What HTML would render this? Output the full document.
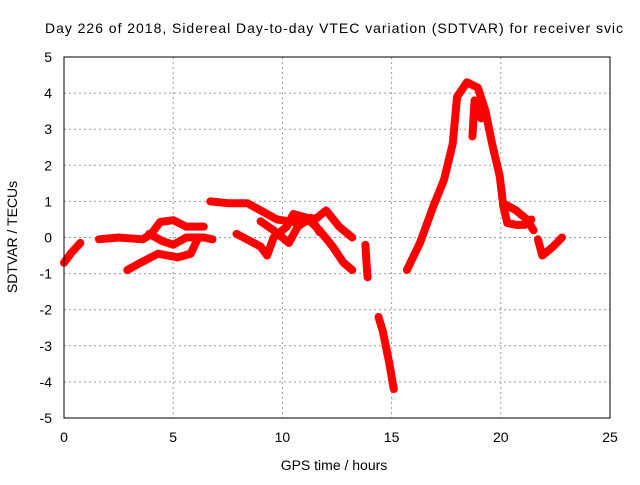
<!DOCTYPE html>
<html><head><meta charset="utf-8"><style>
body{margin:0;background:#fff}
svg text{font-family:"Liberation Sans",sans-serif;font-size:14px;fill:#000}
</style></head><body>
<svg id="c" width="640" height="480">
<text x="45" y="33" textLength="578" lengthAdjust="spacing">Day 226 of 2018, Sidereal Day-to-day VTEC variation (SDTVAR) for receiver svic</text>
<text x="334" y="470" text-anchor="middle">GPS time / hours</text>
<text transform="translate(17,237) rotate(-90)" text-anchor="middle">SDTVAR / TECUs</text>
<g id="grid"></g><g id="marks"></g>
<rect x="64" y="57" width="546" height="361" fill="none" stroke="#000"/>
</svg>
<script>
const xTicks=[0,5,10,15,20,25];
const yTicks=[-5,-4,-3,-2,-1,0,1,2,3,4,5];
const tA_h=[0,0.3,0.75]; const tA_v=[-0.7,-0.45,-0.15];
const tB_h=[1.6,2.5,3.6,4.0,4.4,5.0,5.6,6.4]; const tB_v=[-0.05,0.0,-0.05,0.1,0.43,0.48,0.3,0.3];
const tC_h=[3.9,4.5,5.0,5.6,6.4,6.8]; const tC_v=[0.1,-0.1,-0.2,0.0,0.0,-0.05];
const tD_h=[2.9,3.5,4.3,5.2,5.8,6.1]; const tD_v=[-0.9,-0.7,-0.45,-0.55,-0.45,-0.07];
const tE_h=[6.7,7.5,8.4,9.0,9.75,10.8,11.6,12.0,12.6,13.2]; const tE_v=[1.0,0.95,0.95,0.75,0.5,0.4,0.55,0.75,0.3,0.0];
const tF_h=[7.9,9.0,9.3,9.6,10.2,10.5,11.1,11.7,12.3,12.8,13.2]; const tF_v=[0.1,-0.25,-0.5,0.0,0.3,0.65,0.55,0.2,-0.25,-0.7,-0.9];
const tG_h=[9.0,9.6,10.3,10.7,11.3,11.7]; const tG_v=[0.45,0.2,-0.15,0.3,0.55,0.15];
const tH_h=[13.8,13.85,13.9]; const tH_v=[-0.2,-0.7,-1.1];
const tI_h=[14.4,14.6,14.9,15.1]; const tI_v=[-2.2,-2.6,-3.5,-4.2];
const tJ_h=[15.7,16.3,16.9,17.4,17.8,18.0,18.45,18.95,19.3,19.6,19.95,20.1,20.7,21.2,21.5]; const tJ_v=[-0.9,-0.15,0.85,1.6,2.6,3.9,4.3,4.15,3.5,2.6,1.7,0.95,0.75,0.5,0.2];
const tK_h=[18.7,18.8,19.1]; const tK_v=[2.8,3.8,3.3];
const tL_h=[20.1,20.3,20.7,21.1,21.4]; const tL_v=[0.9,0.4,0.35,0.35,0.5];
const tM_h=[21.7,21.9,22.4,22.8]; const tM_v=[-0.05,-0.5,-0.25,0.0];
const series=[[tA_h,tA_v],[tB_h,tB_v],[tC_h,tC_v],[tD_h,tD_v],[tE_h,tE_v],[tF_h,tF_v],[tG_h,tG_v],[tH_h,tH_v],[tI_h,tI_v],[tJ_h,tJ_v],[tK_h,tK_v],[tL_h,tL_v],[tM_h,tM_v]];
const X=h=>64+h*546/25, Y=v=>237.5-v*36.1;
const NS="http://www.w3.org/2000/svg";
const grid=document.getElementById('grid'), marks=document.getElementById('marks');
function mk(p,tag,at){const e=document.createElementNS(NS,tag);for(const k in at)e.setAttribute(k,at[k]);p.appendChild(e);return e;}
xTicks.forEach(t=>{
 if(t>0&&t<25){const g=mk(grid,'line',{x1:X(t),x2:X(t),y1:57,y2:418,stroke:'#999','stroke-dasharray':'2,3'});
 
 }
 const l=mk(grid,'text',{x:X(t),y:442,'text-anchor':'middle'});l.textContent=t;
 
 
});
yTicks.forEach(t=>{
 if(t>-5&&t<5){const g=mk(grid,'line',{x1:64,x2:610,y1:Y(t),y2:Y(t),stroke:'#999','stroke-dasharray':'2,3'});
 
 }
 const l=mk(grid,'text',{x:52,y:Y(t)+5,'text-anchor':'end'});l.textContent=t;
 
 
});
series.forEach(s=>{
 const pts=s[0].map((h,i)=>X(h)+','+Y(s[1][i])).join(' ');
 const p=mk(marks,'polyline',{points:pts,fill:'none',stroke:'#f00','stroke-width':8,'stroke-linejoin':'round','stroke-linecap':'round'});
 
 
});
</script>
</body></html>
